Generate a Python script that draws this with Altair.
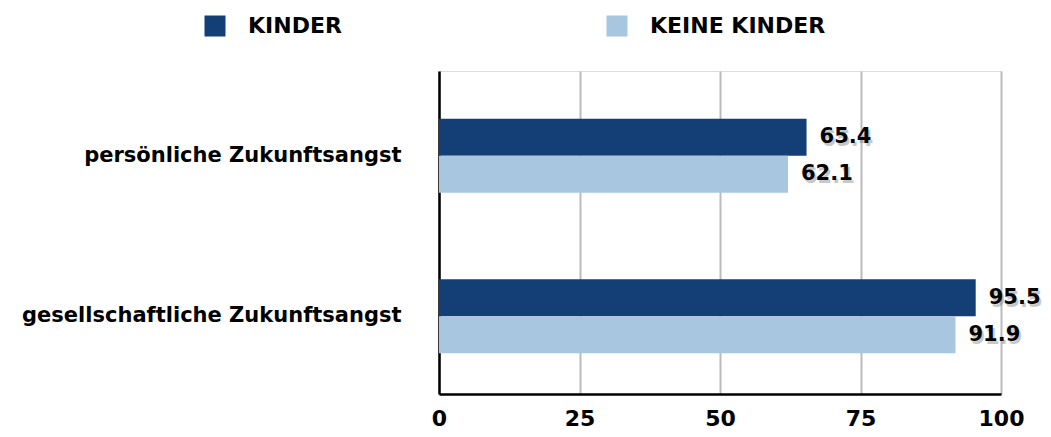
import altair as alt
import pandas as pd

categories = ["persönliche Zukunftsangst", "gesellschaftliche Zukunftsangst"]
groups = ["KINDER", "KEINE KINDER"]
kinder = [65.4, 95.5]
keine_kinder = [62.1, 91.9]
x_ticks = [0, 25, 50, 75, 100]
colors = ["#133F76", "#A9C6E0"]

rows = []
for c, a, b in zip(categories, kinder, keine_kinder):
    rows.append({"cat": c, "group": groups[0], "value": a, "label": f"{a:.1f}"})
    rows.append({"cat": c, "group": groups[1], "value": b, "label": f"{b:.1f}"})
df = pd.DataFrame(rows)

FONT = "DejaVu Sans"
W = "bold"

y = alt.Y(
    "cat:N", sort=categories, title=None,
    scale=alt.Scale(paddingInner=0.54, paddingOuter=0.276, align=0.54),
    axis=alt.Axis(labelFontSize=21, labelFont=FONT, labelFontWeight=W,
                  labelColor="black", labelPadding=38, ticks=False,
                  domainColor="black", domainWidth=2.5, labelLimit=600),
)
yoff = alt.YOffset("group:N", sort=groups)
x = alt.X(
    "value:Q", title=None, scale=alt.Scale(domain=[0, 100], nice=False),
    axis=alt.Axis(values=x_ticks, labelFontSize=22, labelFont=FONT,
                  labelFontWeight=W, labelColor="black", grid=True,
                  gridColor="#bbbbbb", gridWidth=2, ticks=False,
                  domainColor="black", domainWidth=2.5, labelPadding=14,
                  labelFlush=False),
)
color = alt.Color(
    "group:N", sort=groups, title=None,
    scale=alt.Scale(domain=groups, range=colors),
    legend=alt.Legend(orient="none", direction="horizontal", legendX=-235,
                      legendY=-56, symbolType="square", symbolSize=441,
                      symbolStrokeWidth=0, symbolOpacity=1, labelFontSize=22,
                      labelFont=FONT, labelFontWeight=W, labelColor="black",
                      columnPadding=264, labelOffset=22, labelLimit=400),
)

bars = alt.Chart(df).mark_bar(size=37).encode(x=x, y=y, yOffset=yoff, color=color)

shadow = alt.Chart(df).mark_text(
    align="left", baseline="middle", dx=15, dy=3, fontSize=21, font=FONT,
    fontWeight=W, color="#777777", opacity=0.4,
).encode(x="value:Q", y=alt.Y("cat:N", sort=categories), yOffset=yoff, text="label:N")

labels = alt.Chart(df).mark_text(
    align="left", baseline="middle", dx=13, fontSize=21, font=FONT,
    fontWeight=W, color="black",
).encode(x="value:Q", y=alt.Y("cat:N", sort=categories), yOffset=yoff, text="label:N")

chart = (
    alt.layer(bars, shadow, labels)
    .properties(
        width=562, height=323,
        autosize=alt.AutoSizeParams(type="none"),
        padding={"left": 431, "top": 63, "right": 42, "bottom": 40},
    )
    .configure_view(stroke=None)
    .configure(background="white")
)

chart.save("out.html", embed_options={"renderer": "svg", "actions": False})
